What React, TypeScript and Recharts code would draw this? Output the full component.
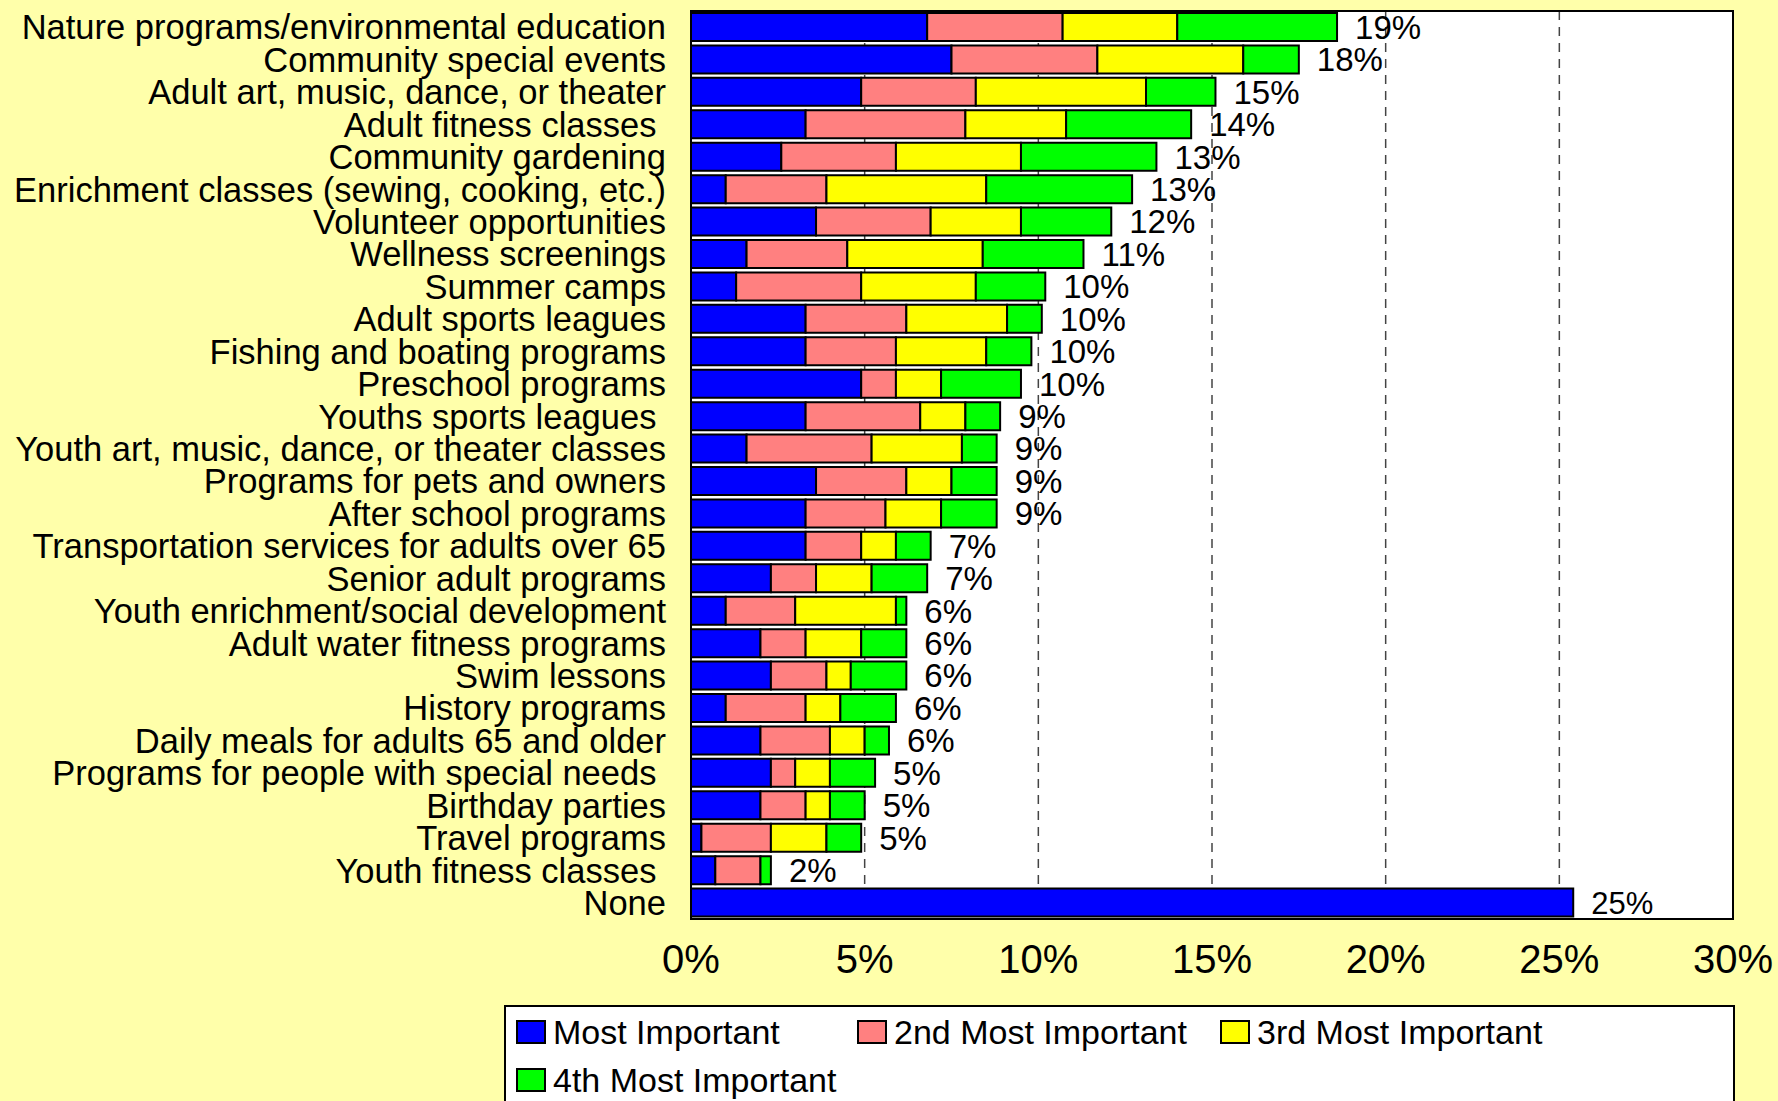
import React from 'react';
import { BarChart, Bar, XAxis, YAxis, CartesianGrid, LabelList, Legend, ReferenceArea } from 'recharts';

const categories = [
  'Nature programs/environmental education',
  'Community special events',
  'Adult art, music, dance, or theater',
  'Adult fitness classes\u00A0',
  'Community gardening',
  'Enrichment classes (sewing, cooking, etc.)',
  'Volunteer opportunities',
  'Wellness screenings',
  'Summer camps',
  'Adult sports leagues',
  'Fishing and boating programs',
  'Preschool programs',
  'Youths sports leagues\u00A0',
  'Youth art, music, dance, or theater classes',
  'Programs for pets and owners',
  'After school programs',
  'Transportation services for adults over 65',
  'Senior adult programs',
  'Youth enrichment/social development',
  'Adult water fitness programs',
  'Swim lessons',
  'History programs',
  'Daily meals for adults 65 and older',
  'Programs for people with special needs\u00A0',
  'Birthday parties',
  'Travel programs',
  'Youth fitness classes\u00A0',
  'None',
];

const mostImportant = [6.8, 7.5, 4.9, 3.3, 2.6, 1.0, 3.6, 1.6, 1.3, 3.3, 3.3, 4.9, 3.3, 1.6, 3.6, 3.3, 3.3, 2.3, 1.0, 2.0, 2.3, 1.0, 2.0, 2.3, 2.0, 0.3, 0.7, 25.4];
const secondMost = [3.9, 4.2, 3.3, 4.6, 3.3, 2.9, 3.3, 2.9, 3.6, 2.9, 2.6, 1.0, 3.3, 3.6, 2.6, 2.3, 1.6, 1.3, 2.0, 1.3, 1.6, 2.3, 2.0, 0.7, 1.3, 2.0, 1.3, 0];
const thirdMost = [3.3, 4.2, 4.9, 2.9, 3.6, 4.6, 2.6, 3.9, 3.3, 2.9, 2.6, 1.3, 1.3, 2.6, 1.3, 1.6, 1.0, 1.6, 2.9, 1.6, 0.7, 1.0, 1.0, 1.0, 0.7, 1.6, 0, 0];
const fourthMost = [4.6, 1.6, 2.0, 3.6, 3.9, 4.2, 2.6, 2.9, 2.0, 1.0, 1.3, 2.3, 1.0, 1.0, 1.3, 1.6, 1.0, 1.6, 0.3, 1.3, 1.6, 1.6, 0.7, 1.3, 1.0, 1.0, 0.3, 0];
const totalLabels = ['19%', '18%', '15%', '14%', '13%', '13%', '12%', '11%', '10%', '10%', '10%', '10%', '9%', '9%', '9%', '9%', '7%', '7%', '6%', '6%', '6%', '6%', '6%', '5%', '5%', '5%', '2%', '25%'];

const seriesNames = ['Most Important', '2nd Most Important', '3rd Most Important', '4th Most Important'];
const seriesKeys = ['s1', 's2', 's3', 's4'];
const seriesColors = ['#0000FF', '#FF8080', '#FFFF00', '#00FF00'];
const xTicks = [0, 5, 10, 15, 20, 25, 30];

const data = categories.map((name, i) => ({
  name,
  s1: mostImportant[i],
  s2: secondMost[i],
  s3: thirdMost[i],
  s4: fourthMost[i],
  label: totalLabels[i],
}));

const legendSlots = [
  { left: 10, top: 13 },
  { left: 351, top: 13 },
  { left: 714, top: 13 },
  { left: 10, top: 61 },
];

const renderLegend = () => (
  <div
    style={{
      position: 'relative',
      width: 1231,
      height: 110,
      background: '#FFFFFF',
      border: '2px solid #000',
      boxSizing: 'border-box',
    }}
  >
    {seriesNames.map((name, i) => {
      const slot = legendSlots[i];
      return (
        <div key={name} style={{ position: 'absolute', left: slot.left, top: slot.top, display: 'flex', alignItems: 'center', height: 24 }}>
          <div style={{ width: 30, height: 24, background: seriesColors[i], border: '2px solid #000', boxSizing: 'border-box' }} />
          <span style={{ marginLeft: 7, fontSize: 34, color: '#000', lineHeight: '24px', whiteSpace: 'nowrap' }}>{name}</span>
        </div>
      );
    })}
  </div>
);

const makeTotalLabel = (seriesIdx: number) => (props: any) => {
  const index = props.index;
  const row = index !== undefined ? data[index] : undefined;
  if (!row) return null;
  const vals = [row.s1, row.s2, row.s3, row.s4];
  let last = -1;
  vals.forEach((v, j) => {
    if (v > 0) last = j;
  });
  if (last !== seriesIdx) return null;
  const vb = props.viewBox || {};
  const bx = Number(props.x ?? vb.x);
  const bw = Number(props.width ?? vb.width);
  const by = Number(props.y ?? vb.y);
  const bh = Number(props.height ?? vb.height);
  const isLast = index === data.length - 1;
  return (
    <text x={bx + bw + 18} y={by + bh / 2} dy="0.36em" fontSize={isLast ? 31 : 33} fill="#000000" textAnchor="start">
      {row.label}
    </text>
  );
};

export default function App() {
  return (
    <div
      style={{
        position: 'absolute',
        left: 0,
        top: 0,
        width: 1778,
        height: 1101,
        overflow: 'hidden',
        background: '#FFFFAA',
        fontFamily: '"Liberation Sans", Arial, Helvetica, sans-serif',
      }}
    >
      <BarChart
        width={1778}
        height={1101}
        data={data}
        layout="vertical"
        margin={{ top: 11, right: 45, bottom: 122, left: 0 }}
        barSize={28}
      >
        <CartesianGrid
          horizontal={false}
          vertical={true}
          fill="#FFFFFF"
          stroke="#444444"
          strokeWidth={1.5}
          strokeDasharray="9 7"
        />
        <XAxis
          type="number"
          domain={[0, 30]}
          ticks={xTicks}
          interval={0}
          tickFormatter={(v: number) => `${v}%`}
          tickLine={false}
          axisLine={false}
          tickSize={0}
          tickMargin={26}
          height={60}
          tick={{ fill: '#000000', fontSize: 40 }}
        />
        <YAxis
          type="category"
          dataKey="name"
          width={691}
          interval={0}
          tickLine={false}
          axisLine={false}
          tickSize={0}
          tickMargin={25}
          tick={{ fill: '#000000', fontSize: 34.5 }}
        />
        {seriesKeys.map((k, i) => (
          <Bar
            key={k}
            dataKey={k}
            name={seriesNames[i]}
            stackId="a"
            fill={seriesColors[i]}
            stroke="#000000"
            strokeWidth={2}
            isAnimationActive={false}
          >
            <LabelList dataKey="label" content={makeTotalLabel(i)} />
          </Bar>
        ))}
        <ReferenceArea x1={0} x2={30} fill="none" fillOpacity={0} stroke="#000000" strokeWidth={2} ifOverflow="visible" />
        <Legend
          layout="horizontal"
          verticalAlign="middle"
          align="center"
          content={renderLegend}
          wrapperStyle={{ left: 504, top: 1005, width: 1231, height: 110 }}
        />
      </BarChart>
    </div>
  );
}
